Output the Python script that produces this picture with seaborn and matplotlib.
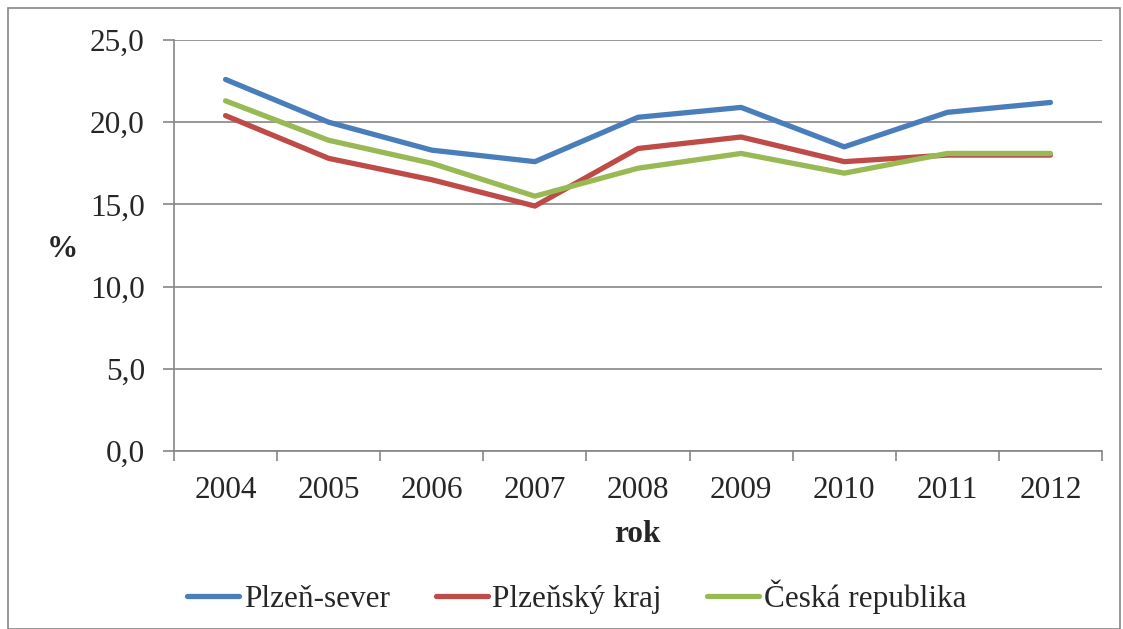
import numpy as np
import pandas as pd
import seaborn as sns
import matplotlib.pyplot as plt
from matplotlib.ticker import FuncFormatter, FixedLocator
from matplotlib.patches import Rectangle

years = ["2004", "2005", "2006", "2007", "2008", "2009", "2010", "2011", "2012"]
plzen_sever = [22.6, 20.0, 18.3, 17.6, 20.3, 20.9, 18.5, 20.6, 21.2]
plzensky_kraj = [20.4, 17.8, 16.5, 14.9, 18.4, 19.1, 17.6, 18.0, 18.0]
ceska_republika = [21.3, 18.9, 17.5, 15.5, 17.2, 18.1, 16.9, 18.1, 18.1]
series_names = ["Plzeň-sever", "Plzeňský kraj", "Česká republika"]
colors = ["#4A7EBB", "#BE4B48", "#98B954"]

df = pd.DataFrame({
    "idx": list(range(len(years))) * 3,
    "value": plzen_sever + plzensky_kraj + ceska_republika,
    "series": [s for s in series_names for _ in years],
})

sns.set_theme(style="white")
plt.rcParams["font.family"] = ["Liberation Serif", "DejaVu Serif"]
fs = 22.5

fig = plt.figure(figsize=(11.23, 6.29), dpi=100)
ax = fig.add_axes([174 / 1123, 1 - 451 / 629, (1102 - 174) / 1123, (451 - 40) / 629])

sns.lineplot(data=df, x="idx", y="value", hue="series", hue_order=series_names,
             palette=colors, linewidth=3.8, ax=ax, legend=False, zorder=3)
for c, name in zip(colors, series_names):
    ax.plot([], [], color=c, linewidth=3.8, label=name)

grid_c = "#868686"
ax.set_xlim(-0.5, len(years) - 0.5)
ax.set_ylim(0, 25)
ax.set_yticks(np.arange(0, 26, 5))
ax.yaxis.set_major_formatter(FuncFormatter(lambda v, p: f"{v:.1f}".replace(".", ",")))
ax.yaxis.grid(True, color=grid_c, linewidth=1.2, zorder=0)
ax.set_axisbelow(True)

ax.set_xticks(range(len(years)))
ax.set_xticklabels(years)
ax.xaxis.set_minor_locator(FixedLocator(np.arange(-0.5, len(years), 1.0)))
ax.tick_params(axis="x", which="major", bottom=True, length=0, pad=18, labelsize=fs)
ax.tick_params(axis="x", which="minor", bottom=True, length=7, width=1.2,
               color=grid_c, direction="out")
ax.tick_params(axis="y", which="major", left=True, length=8, width=1.2, color=grid_c,
               direction="out", pad=13, labelsize=fs)

for s in ["top", "right"]:
    ax.spines[s].set_visible(False)
for s in ["left", "bottom"]:
    ax.spines[s].set_color(grid_c)
    ax.spines[s].set_linewidth(1.2)

ax.set_xlabel("")
ax.set_ylabel("")
fig.text(637 / 1123, 1 - 535 / 629, "rok", fontsize=fs, fontweight="bold",
         ha="center", va="center")
fig.text(62 / 1123, 1 - 249 / 629, "%", fontsize=fs, fontweight="bold",
         ha="center", va="center")

fig.legend(loc="center", bbox_to_anchor=(577 / 1123, 1 - 597 / 629), ncol=3,
           frameon=False, fontsize=fs, handlelength=1.66, handletextpad=0.16,
           columnspacing=1.45)

fig.patches.append(Rectangle((8 / 1123, 0), 1 - 11 / 1123, 1 - 8 / 629,
                             transform=fig.transFigure, fill=False,
                             edgecolor=grid_c, linewidth=1.2))

fig.savefig("out.png", dpi=100)
